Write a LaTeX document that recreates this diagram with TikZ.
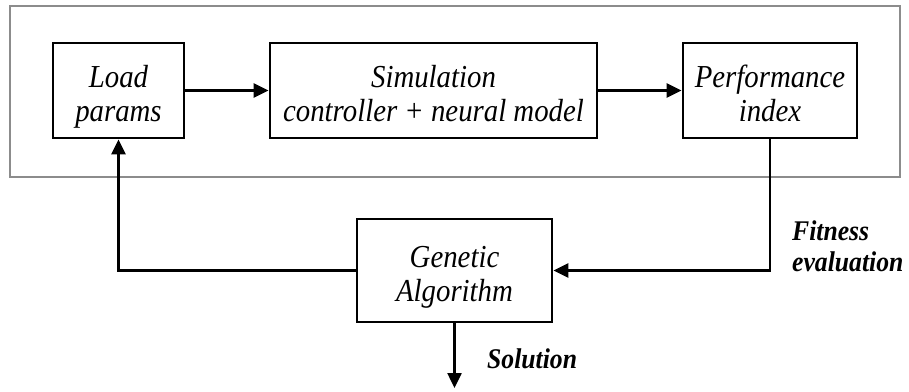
\documentclass[tikz,border=0pt]{standalone}
\usepackage{fontspec}
\setmainfont{Liberation Serif}
\newfontfamily\boxfont[FakeStretch=0.9]{Liberation Serif}
\usepackage{xcolor}
\usetikzlibrary{arrows.meta}
\definecolor{framegray}{RGB}{140,140,140}

% two lines of box text, set a little low as in the drawing
\newcommand{\twolines}[2]{\rule{0pt}{34pt}#1\\#2\rule[-7pt]{0pt}{7pt}}

\tikzset{
  block/.style={draw, line width=2.8pt, align=center, inner sep=2pt,
    font=\boxfont\fontsize{32}{34}\selectfont\itshape},
  link/.style={line width=2.5pt, -{Triangle[length=15pt,width=14pt]}},
  tag/.style={inner sep=0pt, align=left,
    font=\boxfont\fontsize{28.5}{31}\selectfont\bfseries\itshape}
}

\begin{document}
\begin{tikzpicture}[x=1pt, y=-1pt]
        \useasboundingbox (0,0) rectangle (909,391);

        % Grey frame round the simulation loop
        \draw[framegray, line width=2pt] (10,6) rectangle (900,177);

        % Blocks of the loop
        \node[block, minimum width=131, minimum height=95] (load) at (118.5,90.5) {\twolines{Load}{params}};
        \node[block, minimum width=327, minimum height=95] (sim) at (433.5,90.5) {\twolines{Simulation}{controller + neural model}};
        \node[block, minimum width=174, minimum height=95] (perf) at (770,90.5) {\twolines{Performance}{index}};

        % Optimiser below the frame
        \node[block, minimum width=195, minimum height=103] (ga) at (454.5,270.5) {\twolines{Genetic}{Algorithm}};
        \coordinate (out) at (454.5,388);

        % Connectors
        \draw[link] (load) -- (sim);
        \draw[link] (sim) -- (perf);
        \draw[link] (perf.south) |- (ga.east);
        \draw[link] (ga.west) -| (load.south);
        \draw[link] (ga.south) -- (out);

        % Labels
        \node[tag, anchor=west] (fit) at (792,246) {Fitness\\evaluation};
        \node[tag, anchor=base west] (sol) at (487,368) {Solution};
    \end{tikzpicture}
\end{document}
